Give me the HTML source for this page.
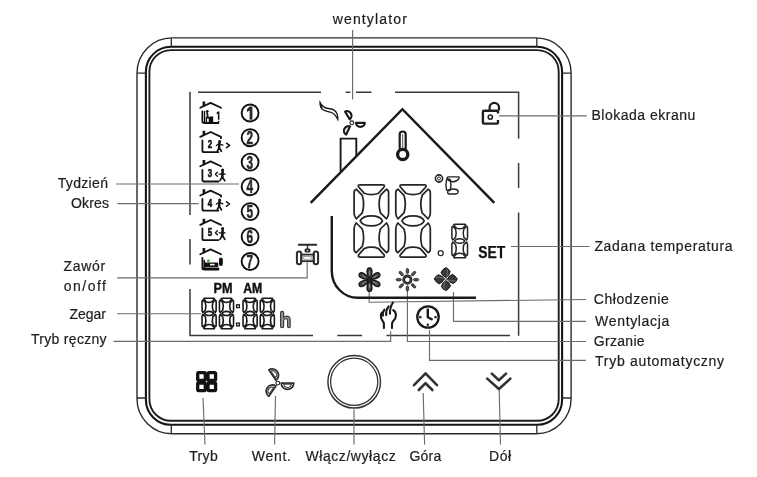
<!DOCTYPE html>
<html><head><meta charset="utf-8"><title>Thermostat</title>
<style>
html,body{margin:0;padding:0;background:#fff;}
body{width:757px;height:477px;overflow:hidden;font-family:"Liberation Sans",sans-serif;}
svg{display:block;will-change:transform;}
</style></head>
<body>
<svg width="757" height="477" viewBox="0 0 757 477">
<rect width="757" height="477" fill="#fff"/>
<g fill="none" stroke="#2b2b2b">
<rect x="137" y="37.9" width="434.1" height="395.8" rx="35" ry="35" stroke-width="1.4"/>
<rect x="145.9" y="46.8" width="416.2" height="378" rx="25" ry="25" stroke-width="2.1" stroke="#151515"/>
<rect x="149.4" y="50.1" width="409.3" height="370.7" rx="21.5" ry="21.5" stroke-width="1.9" stroke="#1e1e1e"/>
<path d="M171.3 38V46.6M536.8 38V46.6M171.3 424.8V433.6M536.8 424.8V433.6M137 73.2H145.9M137 398H145.9M562.1 73.2H571M562.1 398H571" stroke-width="1.3"/>
</g>
<g fill="none" stroke="#3a3a3a" stroke-width="1.5">
<path d="M198 92.2H321M345.7 92.2H350.4M356 92.2H371.5M395 92.2H518.6V138.7M518.6 163V188M518.6 212.5V335.7"/>
<path d="M190 91.8V215M190 239V264.4M190 289V335.6H313M337.3 335.6H362.1M386.4 335.6H510"/>
</g>
<g fill="none" stroke="#6c6c6c" stroke-width="1.15">
<path d="M352.6 30V99.6 M499 115.8H586.7 M511 246.5H589.5 M116.2 184H239 M117.5 203.6H198.7 M117.1 277.9H307.2V262.5 M117.1 313.7H201 M113.5 341.3H390.7V331.3 M369.2 291V302.2L586 299.5 M453.5 292V321.3H586 M407.4 291V341.5H586 M429.5 330V360.3H586 M203 398L205 444.4 M275.5 396L274.6 444.4 M354 409.6V444.4 M423.2 393L424.6 444.4 M499.2 390L500.5 444.4"/>
</g>
<g transform="translate(353.5,184.8) scale(1,1)" fill="none" stroke="#262626" stroke-width="1.75" stroke-linejoin="round" vector-effect="non-scaling-stroke"><path vector-effect="non-scaling-stroke" d="M6.6,0 L29.1,0 Q31.6,0 30.6,2.2 L25.1,8.4 Q17.85,11.2 10.6,8.4 L5.1,2.2 Q4.1,0 6.6,0 Z"/><path vector-effect="non-scaling-stroke" d="M6.6,0 L29.1,0 Q31.6,0 30.6,2.2 L25.1,8.4 Q17.85,11.2 10.6,8.4 L5.1,2.2 Q4.1,0 6.6,0 Z" transform="matrix(1,0,0,-1,0,72.2)"/><path vector-effect="non-scaling-stroke" d="M2.7,4.4 Q0.6,5.2 0.6,8 L0.6,28.5 Q0.6,31.5 2.7,34 L8.8,28 Q11.4,19.2 8.8,10.6 Z"/><path vector-effect="non-scaling-stroke" d="M2.7,4.4 Q0.6,5.2 0.6,8 L0.6,28.5 Q0.6,31.5 2.7,34 L8.8,28 Q11.4,19.2 8.8,10.6 Z" transform="matrix(-1,0,0,1,35.7,0)"/><path vector-effect="non-scaling-stroke" d="M2.7,4.4 Q0.6,5.2 0.6,8 L0.6,28.5 Q0.6,31.5 2.7,34 L8.8,28 Q11.4,19.2 8.8,10.6 Z" transform="matrix(1,0,0,-1,0,72.2)"/><path vector-effect="non-scaling-stroke" d="M2.7,4.4 Q0.6,5.2 0.6,8 L0.6,28.5 Q0.6,31.5 2.7,34 L8.8,28 Q11.4,19.2 8.8,10.6 Z" transform="matrix(-1,0,0,-1,35.7,72.2)"/><path vector-effect="non-scaling-stroke" d="M6.7,36.1 C8.5,32.4 12,31.1 17.85,31.1 C23.7,31.1 27.2,32.4 29,36.1 C27.2,39.8 23.7,41.1 17.85,41.1 C12,41.1 8.5,39.8 6.7,36.1 Z"/></g>
<g transform="translate(395.2,184.8) scale(1,1)" fill="none" stroke="#262626" stroke-width="1.75" stroke-linejoin="round" vector-effect="non-scaling-stroke"><path vector-effect="non-scaling-stroke" d="M6.6,0 L29.1,0 Q31.6,0 30.6,2.2 L25.1,8.4 Q17.85,11.2 10.6,8.4 L5.1,2.2 Q4.1,0 6.6,0 Z"/><path vector-effect="non-scaling-stroke" d="M6.6,0 L29.1,0 Q31.6,0 30.6,2.2 L25.1,8.4 Q17.85,11.2 10.6,8.4 L5.1,2.2 Q4.1,0 6.6,0 Z" transform="matrix(1,0,0,-1,0,72.2)"/><path vector-effect="non-scaling-stroke" d="M2.7,4.4 Q0.6,5.2 0.6,8 L0.6,28.5 Q0.6,31.5 2.7,34 L8.8,28 Q11.4,19.2 8.8,10.6 Z"/><path vector-effect="non-scaling-stroke" d="M2.7,4.4 Q0.6,5.2 0.6,8 L0.6,28.5 Q0.6,31.5 2.7,34 L8.8,28 Q11.4,19.2 8.8,10.6 Z" transform="matrix(-1,0,0,1,35.7,0)"/><path vector-effect="non-scaling-stroke" d="M2.7,4.4 Q0.6,5.2 0.6,8 L0.6,28.5 Q0.6,31.5 2.7,34 L8.8,28 Q11.4,19.2 8.8,10.6 Z" transform="matrix(1,0,0,-1,0,72.2)"/><path vector-effect="non-scaling-stroke" d="M2.7,4.4 Q0.6,5.2 0.6,8 L0.6,28.5 Q0.6,31.5 2.7,34 L8.8,28 Q11.4,19.2 8.8,10.6 Z" transform="matrix(-1,0,0,-1,35.7,72.2)"/><path vector-effect="non-scaling-stroke" d="M6.7,36.1 C8.5,32.4 12,31.1 17.85,31.1 C23.7,31.1 27.2,32.4 29,36.1 C27.2,39.8 23.7,41.1 17.85,41.1 C12,41.1 8.5,39.8 6.7,36.1 Z"/></g>
<g transform="translate(451.6,224.2) scale(0.45378151260504196,0.46537396121883656)" fill="none" stroke="#222" stroke-width="1.5" stroke-linejoin="round" vector-effect="non-scaling-stroke"><path vector-effect="non-scaling-stroke" d="M6.6,0 L29.1,0 Q31.6,0 30.6,2.2 L25.1,8.4 Q17.85,11.2 10.6,8.4 L5.1,2.2 Q4.1,0 6.6,0 Z"/><path vector-effect="non-scaling-stroke" d="M6.6,0 L29.1,0 Q31.6,0 30.6,2.2 L25.1,8.4 Q17.85,11.2 10.6,8.4 L5.1,2.2 Q4.1,0 6.6,0 Z" transform="matrix(1,0,0,-1,0,72.2)"/><path vector-effect="non-scaling-stroke" d="M2.7,4.4 Q0.6,5.2 0.6,8 L0.6,28.5 Q0.6,31.5 2.7,34 L8.8,28 Q11.4,19.2 8.8,10.6 Z"/><path vector-effect="non-scaling-stroke" d="M2.7,4.4 Q0.6,5.2 0.6,8 L0.6,28.5 Q0.6,31.5 2.7,34 L8.8,28 Q11.4,19.2 8.8,10.6 Z" transform="matrix(-1,0,0,1,35.7,0)"/><path vector-effect="non-scaling-stroke" d="M2.7,4.4 Q0.6,5.2 0.6,8 L0.6,28.5 Q0.6,31.5 2.7,34 L8.8,28 Q11.4,19.2 8.8,10.6 Z" transform="matrix(1,0,0,-1,0,72.2)"/><path vector-effect="non-scaling-stroke" d="M2.7,4.4 Q0.6,5.2 0.6,8 L0.6,28.5 Q0.6,31.5 2.7,34 L8.8,28 Q11.4,19.2 8.8,10.6 Z" transform="matrix(-1,0,0,-1,35.7,72.2)"/><path vector-effect="non-scaling-stroke" d="M6.7,36.1 C8.5,32.4 12,31.1 17.85,31.1 C23.7,31.1 27.2,32.4 29,36.1 C27.2,39.8 23.7,41.1 17.85,41.1 C12,41.1 8.5,39.8 6.7,36.1 Z"/></g>
<circle cx="440.7" cy="253.2" r="2.5" fill="none" stroke="#2a2a2a" stroke-width="1.3"/>
<g transform="translate(201.8,298.2) scale(0.4089635854341736,0.42243767313019387)" fill="none" stroke="#1a1a1a" stroke-width="1.6" stroke-linejoin="round" vector-effect="non-scaling-stroke"><path vector-effect="non-scaling-stroke" d="M6.6,0 L29.1,0 Q31.6,0 30.6,2.2 L25.1,8.4 Q17.85,11.2 10.6,8.4 L5.1,2.2 Q4.1,0 6.6,0 Z"/><path vector-effect="non-scaling-stroke" d="M6.6,0 L29.1,0 Q31.6,0 30.6,2.2 L25.1,8.4 Q17.85,11.2 10.6,8.4 L5.1,2.2 Q4.1,0 6.6,0 Z" transform="matrix(1,0,0,-1,0,72.2)"/><path vector-effect="non-scaling-stroke" d="M2.7,4.4 Q0.6,5.2 0.6,8 L0.6,28.5 Q0.6,31.5 2.7,34 L8.8,28 Q11.4,19.2 8.8,10.6 Z"/><path vector-effect="non-scaling-stroke" d="M2.7,4.4 Q0.6,5.2 0.6,8 L0.6,28.5 Q0.6,31.5 2.7,34 L8.8,28 Q11.4,19.2 8.8,10.6 Z" transform="matrix(-1,0,0,1,35.7,0)"/><path vector-effect="non-scaling-stroke" d="M2.7,4.4 Q0.6,5.2 0.6,8 L0.6,28.5 Q0.6,31.5 2.7,34 L8.8,28 Q11.4,19.2 8.8,10.6 Z" transform="matrix(1,0,0,-1,0,72.2)"/><path vector-effect="non-scaling-stroke" d="M2.7,4.4 Q0.6,5.2 0.6,8 L0.6,28.5 Q0.6,31.5 2.7,34 L8.8,28 Q11.4,19.2 8.8,10.6 Z" transform="matrix(-1,0,0,-1,35.7,72.2)"/><path vector-effect="non-scaling-stroke" d="M6.7,36.1 C8.5,32.4 12,31.1 17.85,31.1 C23.7,31.1 27.2,32.4 29,36.1 C27.2,39.8 23.7,41.1 17.85,41.1 C12,41.1 8.5,39.8 6.7,36.1 Z"/></g>
<g transform="translate(219.2,298.2) scale(0.4089635854341736,0.42243767313019387)" fill="none" stroke="#1a1a1a" stroke-width="1.6" stroke-linejoin="round" vector-effect="non-scaling-stroke"><path vector-effect="non-scaling-stroke" d="M6.6,0 L29.1,0 Q31.6,0 30.6,2.2 L25.1,8.4 Q17.85,11.2 10.6,8.4 L5.1,2.2 Q4.1,0 6.6,0 Z"/><path vector-effect="non-scaling-stroke" d="M6.6,0 L29.1,0 Q31.6,0 30.6,2.2 L25.1,8.4 Q17.85,11.2 10.6,8.4 L5.1,2.2 Q4.1,0 6.6,0 Z" transform="matrix(1,0,0,-1,0,72.2)"/><path vector-effect="non-scaling-stroke" d="M2.7,4.4 Q0.6,5.2 0.6,8 L0.6,28.5 Q0.6,31.5 2.7,34 L8.8,28 Q11.4,19.2 8.8,10.6 Z"/><path vector-effect="non-scaling-stroke" d="M2.7,4.4 Q0.6,5.2 0.6,8 L0.6,28.5 Q0.6,31.5 2.7,34 L8.8,28 Q11.4,19.2 8.8,10.6 Z" transform="matrix(-1,0,0,1,35.7,0)"/><path vector-effect="non-scaling-stroke" d="M2.7,4.4 Q0.6,5.2 0.6,8 L0.6,28.5 Q0.6,31.5 2.7,34 L8.8,28 Q11.4,19.2 8.8,10.6 Z" transform="matrix(1,0,0,-1,0,72.2)"/><path vector-effect="non-scaling-stroke" d="M2.7,4.4 Q0.6,5.2 0.6,8 L0.6,28.5 Q0.6,31.5 2.7,34 L8.8,28 Q11.4,19.2 8.8,10.6 Z" transform="matrix(-1,0,0,-1,35.7,72.2)"/><path vector-effect="non-scaling-stroke" d="M6.7,36.1 C8.5,32.4 12,31.1 17.85,31.1 C23.7,31.1 27.2,32.4 29,36.1 C27.2,39.8 23.7,41.1 17.85,41.1 C12,41.1 8.5,39.8 6.7,36.1 Z"/></g>
<g transform="translate(242.8,298.2) scale(0.4089635854341736,0.42243767313019387)" fill="none" stroke="#1a1a1a" stroke-width="1.6" stroke-linejoin="round" vector-effect="non-scaling-stroke"><path vector-effect="non-scaling-stroke" d="M6.6,0 L29.1,0 Q31.6,0 30.6,2.2 L25.1,8.4 Q17.85,11.2 10.6,8.4 L5.1,2.2 Q4.1,0 6.6,0 Z"/><path vector-effect="non-scaling-stroke" d="M6.6,0 L29.1,0 Q31.6,0 30.6,2.2 L25.1,8.4 Q17.85,11.2 10.6,8.4 L5.1,2.2 Q4.1,0 6.6,0 Z" transform="matrix(1,0,0,-1,0,72.2)"/><path vector-effect="non-scaling-stroke" d="M2.7,4.4 Q0.6,5.2 0.6,8 L0.6,28.5 Q0.6,31.5 2.7,34 L8.8,28 Q11.4,19.2 8.8,10.6 Z"/><path vector-effect="non-scaling-stroke" d="M2.7,4.4 Q0.6,5.2 0.6,8 L0.6,28.5 Q0.6,31.5 2.7,34 L8.8,28 Q11.4,19.2 8.8,10.6 Z" transform="matrix(-1,0,0,1,35.7,0)"/><path vector-effect="non-scaling-stroke" d="M2.7,4.4 Q0.6,5.2 0.6,8 L0.6,28.5 Q0.6,31.5 2.7,34 L8.8,28 Q11.4,19.2 8.8,10.6 Z" transform="matrix(1,0,0,-1,0,72.2)"/><path vector-effect="non-scaling-stroke" d="M2.7,4.4 Q0.6,5.2 0.6,8 L0.6,28.5 Q0.6,31.5 2.7,34 L8.8,28 Q11.4,19.2 8.8,10.6 Z" transform="matrix(-1,0,0,-1,35.7,72.2)"/><path vector-effect="non-scaling-stroke" d="M6.7,36.1 C8.5,32.4 12,31.1 17.85,31.1 C23.7,31.1 27.2,32.4 29,36.1 C27.2,39.8 23.7,41.1 17.85,41.1 C12,41.1 8.5,39.8 6.7,36.1 Z"/></g>
<g transform="translate(260.0,298.2) scale(0.4089635854341736,0.42243767313019387)" fill="none" stroke="#1a1a1a" stroke-width="1.6" stroke-linejoin="round" vector-effect="non-scaling-stroke"><path vector-effect="non-scaling-stroke" d="M6.6,0 L29.1,0 Q31.6,0 30.6,2.2 L25.1,8.4 Q17.85,11.2 10.6,8.4 L5.1,2.2 Q4.1,0 6.6,0 Z"/><path vector-effect="non-scaling-stroke" d="M6.6,0 L29.1,0 Q31.6,0 30.6,2.2 L25.1,8.4 Q17.85,11.2 10.6,8.4 L5.1,2.2 Q4.1,0 6.6,0 Z" transform="matrix(1,0,0,-1,0,72.2)"/><path vector-effect="non-scaling-stroke" d="M2.7,4.4 Q0.6,5.2 0.6,8 L0.6,28.5 Q0.6,31.5 2.7,34 L8.8,28 Q11.4,19.2 8.8,10.6 Z"/><path vector-effect="non-scaling-stroke" d="M2.7,4.4 Q0.6,5.2 0.6,8 L0.6,28.5 Q0.6,31.5 2.7,34 L8.8,28 Q11.4,19.2 8.8,10.6 Z" transform="matrix(-1,0,0,1,35.7,0)"/><path vector-effect="non-scaling-stroke" d="M2.7,4.4 Q0.6,5.2 0.6,8 L0.6,28.5 Q0.6,31.5 2.7,34 L8.8,28 Q11.4,19.2 8.8,10.6 Z" transform="matrix(1,0,0,-1,0,72.2)"/><path vector-effect="non-scaling-stroke" d="M2.7,4.4 Q0.6,5.2 0.6,8 L0.6,28.5 Q0.6,31.5 2.7,34 L8.8,28 Q11.4,19.2 8.8,10.6 Z" transform="matrix(-1,0,0,-1,35.7,72.2)"/><path vector-effect="non-scaling-stroke" d="M6.7,36.1 C8.5,32.4 12,31.1 17.85,31.1 C23.7,31.1 27.2,32.4 29,36.1 C27.2,39.8 23.7,41.1 17.85,41.1 C12,41.1 8.5,39.8 6.7,36.1 Z"/></g>
<rect x="236.6" y="304.8" width="2.8" height="2.8" fill="none" stroke="#1a1a1a" stroke-width="1.3"/>
<rect x="236.6" y="323.1" width="2.8" height="2.8" fill="none" stroke="#1a1a1a" stroke-width="1.3"/>
<g font-family="Liberation Sans, sans-serif" stroke="#1e1e1e" stroke-width="0.2">
<text x="332.7" y="23.8" font-size="14" font-weight="normal" fill="#1e1e1e" text-anchor="start" textLength="74.1" lengthAdjust="spacing">wentylator</text>
<text x="591.4" y="120.3" font-size="14" font-weight="normal" fill="#1e1e1e" text-anchor="start" textLength="104" lengthAdjust="spacing">Blokada ekranu</text>
<text x="594.4" y="250.5" font-size="14" font-weight="normal" fill="#1e1e1e" text-anchor="start" textLength="138.2" lengthAdjust="spacing">Zadana temperatura</text>
<text x="57.7" y="187.8" font-size="14" font-weight="normal" fill="#1e1e1e" text-anchor="start" textLength="50.3" lengthAdjust="spacing">Tydzień</text>
<text x="71.0" y="207.6" font-size="14" font-weight="normal" fill="#1e1e1e" text-anchor="start" textLength="38" lengthAdjust="spacing">Okres</text>
<text x="63.4" y="270.9" font-size="14" font-weight="normal" fill="#1e1e1e" text-anchor="start" textLength="41.8" lengthAdjust="spacing">Zawór</text>
<text x="63.8" y="290.8" font-size="14" font-weight="normal" fill="#1e1e1e" text-anchor="start" textLength="42.2" lengthAdjust="spacing">on/off</text>
<text x="69.4" y="319.1" font-size="14" font-weight="normal" fill="#1e1e1e" text-anchor="start" textLength="36.6" lengthAdjust="spacing">Zegar</text>
<text x="30.9" y="343.6" font-size="14" font-weight="normal" fill="#1e1e1e" text-anchor="start" textLength="75.7" lengthAdjust="spacing">Tryb ręczny</text>
<text x="593.8" y="303.9" font-size="14" font-weight="normal" fill="#1e1e1e" text-anchor="start" textLength="75" lengthAdjust="spacing">Chłodzenie</text>
<text x="595.1" y="325.5" font-size="14" font-weight="normal" fill="#1e1e1e" text-anchor="start" textLength="74.2" lengthAdjust="spacing">Wentylacja</text>
<text x="593.8" y="346.4" font-size="14" font-weight="normal" fill="#1e1e1e" text-anchor="start" textLength="50.8" lengthAdjust="spacing">Grzanie</text>
<text x="595.1" y="365.9" font-size="14" font-weight="normal" fill="#1e1e1e" text-anchor="start" textLength="128.9" lengthAdjust="spacing">Tryb automatyczny</text>
<text x="189.2" y="460.9" font-size="14" font-weight="normal" fill="#1e1e1e" text-anchor="start" textLength="28.5" lengthAdjust="spacing">Tryb</text>
<text x="251.7" y="460.9" font-size="14" font-weight="normal" fill="#1e1e1e" text-anchor="start" textLength="39.3" lengthAdjust="spacing">Went.</text>
<text x="305.5" y="460.9" font-size="14" font-weight="normal" fill="#1e1e1e" text-anchor="start" textLength="90.2" lengthAdjust="spacing">Włącz/wyłącz</text>
<text x="409.4" y="460.9" font-size="14" font-weight="normal" fill="#1e1e1e" text-anchor="start" textLength="31.9" lengthAdjust="spacing">Góra</text>
<text x="489.0" y="460.9" font-size="14" font-weight="normal" fill="#1e1e1e" text-anchor="start" textLength="22.2" lengthAdjust="spacing">Dół</text>
</g><g font-family="Liberation Sans, sans-serif">
<g stroke="#111" stroke-width="0.4">
<text x="213.6" y="293.4" font-size="14" font-weight="bold" fill="#111" text-anchor="start" textLength="19" lengthAdjust="spacingAndGlyphs">PM</text>
<text x="243.2" y="293.4" font-size="14" font-weight="bold" fill="#111" text-anchor="start" textLength="19.1" lengthAdjust="spacingAndGlyphs">AM</text>
</g>
<g stroke="#111" stroke-width="0.25">
<text x="478.3" y="257.7" font-size="16.4" font-weight="bold" fill="#111" text-anchor="start" textLength="27.0" lengthAdjust="spacingAndGlyphs">SET</text>
</g>
</g>
<g fill="none" stroke="#1a1a1a" stroke-width="2.5" stroke-linecap="butt" stroke-linejoin="miter">
<path d="M310.7 202.8L402.4 109.2L494.3 202.8"/>
<path d="M340.6 171.4V138.6H356.3V155.6" stroke-width="1.9"/>
<path d="M331.8 216V271.2A26 26.6 0 0 0 357.8 297.8H476" stroke-width="2.4"/>
</g>
<g fill="none" stroke="#1a1a1a" stroke-width="1.3">
<path d="M320 102.4C321.5 105.6 324.5 108.2 328.5 108.5C332 108.8 335.6 110 337.1 114C337.8 116.5 338 118.5 337.8 119.6C336.4 116.6 334.2 113.2 330.4 112.2C326.6 111.4 323 111 321.3 108.2C320.3 106.4 319.8 104.2 320 102.4Z" fill="#fff" stroke-width="1.3"/>
<path d="M320 102.4C320.8 104.5 321.6 106 322.6 107.2L321.4 109.2C320.3 107 319.8 104.6 320 102.4Z" fill="#1a1a1a" stroke="none"/>
<circle cx="351.8" cy="122.8" r="1.9" stroke-width="1.1"/>
<path d="M349.64 119.20L345.10 111.66A4.40 4.00 -121.0 0 1 349.64 119.20Z" stroke-width="2.2" stroke-linejoin="round"/>
<path d="M356.00 122.80L364.80 122.80A4.40 4.00 0.0 0 1 356.00 122.80Z" stroke-width="2.2" stroke-linejoin="round"/>
<path d="M349.96 126.57L346.10 134.48A4.40 4.00 116.0 0 1 349.96 126.57Z" stroke-width="2.2" stroke-linejoin="round"/>
</g>
<g stroke="#1a1a1a">
<rect x="399.7" y="131.5" width="6.0" height="19" rx="3" fill="#fff" stroke-width="2.2"/>
<path d="M402.7 134.2V149" stroke-width="1" stroke="#555"/>
<circle cx="402.7" cy="154.4" r="5.1" fill="#fff" stroke-width="3.3"/>
</g>
<g fill="none" stroke="#222" stroke-width="1.4" stroke-linejoin="round">
<circle cx="439" cy="178.5" r="3.6" stroke-width="1.6"/><circle cx="439" cy="178.5" r="1.5" stroke-width="1"/>
<path d="M448 176.9H458.3Q459.8 177.1 458.8 178.6Q457 181.6 453.2 181.8Q449.4 181.7 447.2 179.2Q446.8 177.2 448 176.9Z"/>
<path d="M446.6 179.4Q445.4 184.6 446.6 190.2Q448.4 191 450.4 190Q451.4 184.6 450.4 179.8Q448.6 178.4 446.6 179.4Z"/>
<path d="M449.2 189.6Q453 188.6 456.6 189.5Q458.6 190.4 458.1 192.4Q457.6 194 455.6 194H449.8Q447.6 193.8 447.6 192.2Q447.8 190.2 449.2 189.6Z"/>
</g>
<g fill="none" stroke="#1e1e1e" stroke-width="2.4">
<path d="M498 113.6V111.8Q498 110.8 497 110.8H484Q482.9 110.8 482.9 111.9V122.6Q482.9 123.6 484 123.6H497Q498 123.6 498 122.6V120"/>
<path d="M489.6 110.6V107.6A4.7 4.7 0 0 1 499 107.6V110.6" stroke-width="2.2"/>
<circle cx="490.3" cy="117.1" r="2.1" stroke-width="1.6"/>
</g>
<g fill="none" stroke="#2a2a2a" stroke-width="1.6">
<path d="M298.8 244.8H316.2" stroke-width="2.1" stroke-linecap="round"/>
<path d="M307.5 244.8V249" stroke-width="1.4"/>
<rect x="304.6" y="248.4" width="5.8" height="4.2" rx="1.4" fill="#2a2a2a" stroke="none"/>
<circle cx="307.5" cy="250.6" r="0.9" fill="#bbb" stroke="none"/>
<rect x="296.9" y="251.6" width="4.4" height="12.6" rx="2.2" stroke-width="2"/>
<rect x="313.7" y="251.6" width="4.4" height="12.6" rx="2.2" stroke-width="2"/>
<rect x="301.3" y="254.6" width="12.4" height="6.6" stroke-width="1.8"/>
<rect x="303.8" y="256.6" width="7.4" height="2.6" fill="#fff" stroke="#666" stroke-width="0.6"/>
</g>
<path d="M369.50 278.70C373.10 274.35 372.74 267.50 369.50 268.00C366.26 267.50 365.90 274.35 369.50 278.70Z" fill="#444" stroke="#111" stroke-width="1.2"/><path d="M369.50 275.70L369.50 271.20" stroke="#aaa" stroke-width="0.7"/><path d="M370.37 279.20C375.93 280.14 381.69 276.41 379.63 273.85C378.45 270.79 372.33 273.91 370.37 279.20Z" fill="#444" stroke="#111" stroke-width="1.2"/><path d="M372.96 277.70L376.86 275.45" stroke="#aaa" stroke-width="0.7"/><path d="M370.37 280.20C372.33 285.49 378.45 288.61 379.63 285.55C381.69 282.99 375.93 279.26 370.37 280.20Z" fill="#444" stroke="#111" stroke-width="1.2"/><path d="M372.96 281.70L376.86 283.95" stroke="#aaa" stroke-width="0.7"/><path d="M369.50 280.70C365.90 285.05 366.26 291.90 369.50 291.40C372.74 291.90 373.10 285.05 369.50 280.70Z" fill="#444" stroke="#111" stroke-width="1.2"/><path d="M369.50 283.70L369.50 288.20" stroke="#aaa" stroke-width="0.7"/><path d="M368.63 280.20C363.07 279.26 357.31 282.99 359.37 285.55C360.55 288.61 366.67 285.49 368.63 280.20Z" fill="#444" stroke="#111" stroke-width="1.2"/><path d="M366.04 281.70L362.14 283.95" stroke="#aaa" stroke-width="0.7"/><path d="M368.63 279.20C366.67 273.91 360.55 270.79 359.37 273.85C357.31 276.41 363.07 280.14 368.63 279.20Z" fill="#444" stroke="#111" stroke-width="1.2"/><path d="M366.04 277.70L362.14 275.45" stroke="#aaa" stroke-width="0.7"/>
<circle cx="369.5" cy="279.7" r="2.2" fill="#222"/>
<circle cx="407.4" cy="279.7" r="3.7" fill="none" stroke="#1e1e1e" stroke-width="2.8"/>
<circle cx="407.4" cy="279.7" r="3.9" fill="none" stroke="#777" stroke-width="0.5"/>
<ellipse cx="416.10" cy="279.70" rx="2.7" ry="1.3" transform="rotate(0 416.10 279.70)" fill="#555" stroke="#1e1e1e" stroke-width="0.8"/><ellipse cx="413.55" cy="285.85" rx="2.7" ry="1.3" transform="rotate(45 413.55 285.85)" fill="#555" stroke="#1e1e1e" stroke-width="0.8"/><ellipse cx="407.40" cy="288.40" rx="2.7" ry="1.3" transform="rotate(90 407.40 288.40)" fill="#555" stroke="#1e1e1e" stroke-width="0.8"/><ellipse cx="401.25" cy="285.85" rx="2.7" ry="1.3" transform="rotate(135 401.25 285.85)" fill="#555" stroke="#1e1e1e" stroke-width="0.8"/><ellipse cx="398.70" cy="279.70" rx="2.7" ry="1.3" transform="rotate(180 398.70 279.70)" fill="#555" stroke="#1e1e1e" stroke-width="0.8"/><ellipse cx="401.25" cy="273.55" rx="2.7" ry="1.3" transform="rotate(225 401.25 273.55)" fill="#555" stroke="#1e1e1e" stroke-width="0.8"/><ellipse cx="407.40" cy="271.00" rx="2.7" ry="1.3" transform="rotate(270 407.40 271.00)" fill="#555" stroke="#1e1e1e" stroke-width="0.8"/><ellipse cx="413.55" cy="273.55" rx="2.7" ry="1.3" transform="rotate(315 413.55 273.55)" fill="#555" stroke="#1e1e1e" stroke-width="0.8"/>
<path d="M446.20 277.70Q442.20 275.90 441.00 272.50Q442.80 268.90 445.80 267.60Q449.00 268.90 450.20 271.70Q449.20 275.50 446.20 277.70Z" fill="#3a3a3a" stroke="#111" stroke-width="1.0" stroke-linejoin="round"/><path d="M446.80 277.10Q448.40 273.10 447.40 269.50" fill="none" stroke="#999" stroke-width="0.6"/><path d="M447.20 279.50Q449.00 275.50 452.40 274.30Q456.00 276.10 457.30 279.10Q456.00 282.30 453.20 283.50Q449.40 282.50 447.20 279.50Z" fill="#3a3a3a" stroke="#111" stroke-width="1.0" stroke-linejoin="round"/><path d="M447.80 280.10Q451.80 281.70 455.40 280.70" fill="none" stroke="#999" stroke-width="0.6"/><path d="M445.40 280.50Q449.40 282.30 450.60 285.70Q448.80 289.30 445.80 290.60Q442.60 289.30 441.40 286.50Q442.40 282.70 445.40 280.50Z" fill="#3a3a3a" stroke="#111" stroke-width="1.0" stroke-linejoin="round"/><path d="M444.80 281.10Q443.20 285.10 444.20 288.70" fill="none" stroke="#999" stroke-width="0.6"/><path d="M444.40 278.70Q442.60 282.70 439.20 283.90Q435.60 282.10 434.30 279.10Q435.60 275.90 438.40 274.70Q442.20 275.70 444.40 278.70Z" fill="#3a3a3a" stroke="#111" stroke-width="1.0" stroke-linejoin="round"/><path d="M443.80 278.10Q439.80 276.50 436.20 277.50" fill="none" stroke="#999" stroke-width="0.6"/>
<circle cx="445.8" cy="279.1" r="1.3" fill="#ddd" stroke="#333" stroke-width="0.6"/>
<g fill="none" stroke="#1a1a1a" stroke-width="2.1" stroke-linecap="round" stroke-linejoin="round">
<path d="M383.9 328.1V324.2Q383.8 322 382 320Q380.6 318 380.9 315Q381.2 312.8 382.6 312.2"/>
<path d="M382.9 315.6Q382.6 312 384.4 309.6"/>
<path d="M386.2 315.2Q385.8 310 388.6 306.4"/>
<path d="M390 313.8Q389.8 307 393 302.5"/>
<path d="M393.2 310.2Q396 311.5 395.9 315.5Q395.8 319 393.6 320.6Q392 322 392 324V328.1"/>
</g>
<g fill="none" stroke="#1a1a1a" stroke-width="2.3">
<circle cx="428" cy="317" r="10.7"/>
<path d="M427.8 308.4V317.2L432.6 319.8" stroke-width="2.4" stroke-linejoin="round"/>
<path d="M419.2 317.1H421.4M434.4 317.1H436.6" stroke-width="2.2"/>
<circle cx="427.8" cy="324.7" r="1.2" fill="#1a1a1a" stroke="none"/>
</g>
<g fill="none" stroke="#111" stroke-width="1.8" stroke-linejoin="round" stroke-linecap="round"><path d="M200.3 107.80000000000001L210.6 102.9L221 107.80000000000001"/><path d="M202.4 111.30000000000001V121.30000000000001Q202.4 123.0 204.2 123.0H218.4"/></g><path d="M202.6 101.60000000000001H205.2V105.10000000000001L202.6 106.5Z" fill="#111"/><g fill="none" stroke="#111" stroke-linecap="round"><path d="M204.6 111.30000000000001V121.9" stroke-width="1.2"/><circle cx="207.3" cy="111.2" r="1.3" fill="#111" stroke="none"/><path d="M207.2 112.9L207.8 117.5L209.6 117.9V121.9" stroke-width="1.8"/><path d="M206.4 117.5V121.9" stroke-width="1.4"/></g><rect x="209.8" y="116.5" width="3.4" height="5.6" fill="#111"/><path d="M217.6 111.5H219.4V119.7H217.9V113.5L216.6 114.30000000000001V112.7Z" fill="#111"/><path d="M218.6 122.5V120.9" stroke="#111" stroke-width="1.5"/>
<g fill="none" stroke="#111" stroke-width="1.8" stroke-linejoin="round" stroke-linecap="round"><path d="M200.3 136.9L210.6 132.0L221 136.9"/><path d="M202.4 140.4V150.4Q202.4 152.1 204.2 152.1H218.4"/></g><path d="M202.6 130.7H205.2V134.2L202.6 135.6Z" fill="#111"/><text x="207.7" y="148.0" font-size="11.8" font-family="Liberation Sans, sans-serif" font-weight="bold" fill="#111" stroke="#111" stroke-width="0.6" textLength="4.4" lengthAdjust="spacingAndGlyphs">2</text><g fill="none" stroke="#111" stroke-linecap="round" stroke-linejoin="round"><circle cx="219.6" cy="141.4" r="1.5" fill="#111" stroke="none"/><path d="M219.4 143.2L219.1 147.6" stroke-width="2.4"/><path d="M216.4 145.6Q218.1 143.6 219.6 144.0L222.9 145.2" stroke-width="1.3"/><path d="M217.2 151.3L219.1 147.4L221.4 151.3" stroke-width="1.7"/><path d="M226.5 143.2L229.6 145.4L226.5 147.6" stroke-width="1.5"/></g><path d="M221 136.9V139.0" stroke="#111" stroke-width="1.6"/>
<g fill="none" stroke="#111" stroke-width="1.8" stroke-linejoin="round" stroke-linecap="round"><path d="M200.3 166.3L210.6 161.4L221 166.3"/><path d="M202.4 169.8V179.8Q202.4 181.5 204.2 181.5H218.4"/></g><path d="M202.6 160.1H205.2V163.6L202.6 165.0Z" fill="#111"/><text x="207.7" y="177.4" font-size="11.8" font-family="Liberation Sans, sans-serif" font-weight="bold" fill="#111" stroke="#111" stroke-width="0.6" textLength="4.4" lengthAdjust="spacingAndGlyphs">3</text><g fill="none" stroke="#111" stroke-linecap="round" stroke-linejoin="round"><circle cx="222.6" cy="170.0" r="1.5" fill="#111" stroke="none"/><path d="M222.6 171.8L222.29999999999998 176.8" stroke-width="2.6"/><path d="M219.0 174.20000000000002H225.2" stroke-width="1.2"/><path d="M220.0 180.70000000000002L222.2 176.6L224.79999999999998 180.70000000000002" stroke-width="1.7"/><path d="M217.4 172.20000000000002L215.4 174.20000000000002L217.4 176.20000000000002" stroke-width="1.3"/></g>
<g fill="none" stroke="#111" stroke-width="1.8" stroke-linejoin="round" stroke-linecap="round"><path d="M200.3 195.5L210.6 190.6L221 195.5"/><path d="M202.4 199.0V209.0Q202.4 210.7 204.2 210.7H218.4"/></g><path d="M202.6 189.29999999999998H205.2V192.79999999999998L202.6 194.2Z" fill="#111"/><text x="207.7" y="206.6" font-size="11.8" font-family="Liberation Sans, sans-serif" font-weight="bold" fill="#111" stroke="#111" stroke-width="0.6" textLength="4.4" lengthAdjust="spacingAndGlyphs">4</text><g fill="none" stroke="#111" stroke-linecap="round" stroke-linejoin="round"><circle cx="219.6" cy="200.0" r="1.5" fill="#111" stroke="none"/><path d="M219.4 201.79999999999998L219.1 206.2" stroke-width="2.4"/><path d="M216.4 204.2Q218.1 202.2 219.6 202.6L222.9 203.79999999999998" stroke-width="1.3"/><path d="M217.2 209.9L219.1 206.0L221.4 209.9" stroke-width="1.7"/><path d="M226.5 201.79999999999998L229.6 204.0L226.5 206.2" stroke-width="1.5"/></g><path d="M221 195.5V197.6" stroke="#111" stroke-width="1.6"/>
<g fill="none" stroke="#111" stroke-width="1.8" stroke-linejoin="round" stroke-linecap="round"><path d="M200.3 224.9L210.6 220.0L221 224.9"/><path d="M202.4 228.4V238.4Q202.4 240.1 204.2 240.1H218.4"/></g><path d="M202.6 218.7H205.2V222.2L202.6 223.6Z" fill="#111"/><text x="207.7" y="236.0" font-size="11.8" font-family="Liberation Sans, sans-serif" font-weight="bold" fill="#111" stroke="#111" stroke-width="0.6" textLength="4.4" lengthAdjust="spacingAndGlyphs">5</text><g fill="none" stroke="#111" stroke-linecap="round" stroke-linejoin="round"><circle cx="222.6" cy="228.6" r="1.5" fill="#111" stroke="none"/><path d="M222.6 230.4L222.29999999999998 235.4" stroke-width="2.6"/><path d="M219.0 232.8H225.2" stroke-width="1.2"/><path d="M220.0 239.3L222.2 235.2L224.79999999999998 239.3" stroke-width="1.7"/><path d="M217.4 230.8L215.4 232.8L217.4 234.8" stroke-width="1.3"/></g>
<g fill="none" stroke="#111" stroke-width="1.8" stroke-linejoin="round" stroke-linecap="round"><path d="M200.3 254.3L210.6 249.4L221 254.3"/><path d="M202.4 257.8V267.8Q202.4 269.5 204.2 269.5H218.4"/></g><path d="M202.6 248.1H205.2V251.6L202.6 253.0Z" fill="#111"/><g fill="#111" stroke="#111" stroke-linejoin="round"><path d="M204.3 259.9V268.4" stroke-width="1.6" fill="none"/><rect x="205" y="263.0" width="12.8" height="3.8" stroke-width="1"/><rect x="210" y="263.8" width="4.6" height="1.6" fill="#fff" stroke="none"/><path d="M203.4 268.4H219.2" stroke-width="1.4" fill="none"/><circle cx="208.4" cy="260.8" r="1.4" fill="#3a3" stroke="none"/><rect x="219" y="257.4" width="3.8" height="8.6" rx="1.9" stroke="none"/></g>
<ellipse cx="250.1" cy="113.0" rx="8.45" ry="8.5" fill="none" stroke="#111" stroke-width="1.9"/>
<path d="M249.6 106.5H252.4V119.8H249.6V110.4L246.9 111.9V109.3Z" fill="#2a2a2a"/>
<ellipse cx="250.1" cy="137.7" rx="8.45" ry="8.5" fill="none" stroke="#111" stroke-width="1.9"/>
<text x="249.7" y="144.29999999999998" font-size="18.4" font-weight="bold" fill="#2a2a2a" stroke="#2a2a2a" stroke-width="0.5" text-anchor="middle" font-family="Liberation Sans, sans-serif" textLength="6.6" lengthAdjust="spacingAndGlyphs">2</text>
<ellipse cx="250.1" cy="162.1" rx="8.45" ry="8.5" fill="none" stroke="#111" stroke-width="1.9"/>
<text x="249.7" y="168.7" font-size="18.4" font-weight="bold" fill="#2a2a2a" stroke="#2a2a2a" stroke-width="0.5" text-anchor="middle" font-family="Liberation Sans, sans-serif" textLength="6.6" lengthAdjust="spacingAndGlyphs">3</text>
<ellipse cx="250.1" cy="186.7" rx="8.45" ry="8.5" fill="none" stroke="#111" stroke-width="1.9"/>
<text x="249.7" y="193.29999999999998" font-size="18.4" font-weight="bold" fill="#2a2a2a" stroke="#2a2a2a" stroke-width="0.5" text-anchor="middle" font-family="Liberation Sans, sans-serif" textLength="6.6" lengthAdjust="spacingAndGlyphs">4</text>
<ellipse cx="250.1" cy="211.6" rx="8.45" ry="8.5" fill="none" stroke="#111" stroke-width="1.9"/>
<text x="249.7" y="218.2" font-size="18.4" font-weight="bold" fill="#2a2a2a" stroke="#2a2a2a" stroke-width="0.5" text-anchor="middle" font-family="Liberation Sans, sans-serif" textLength="6.6" lengthAdjust="spacingAndGlyphs">5</text>
<ellipse cx="250.1" cy="236.7" rx="8.45" ry="8.5" fill="none" stroke="#111" stroke-width="1.9"/>
<text x="249.7" y="243.29999999999998" font-size="18.4" font-weight="bold" fill="#2a2a2a" stroke="#2a2a2a" stroke-width="0.5" text-anchor="middle" font-family="Liberation Sans, sans-serif" textLength="6.6" lengthAdjust="spacingAndGlyphs">6</text>
<ellipse cx="250.1" cy="261.5" rx="8.45" ry="8.5" fill="none" stroke="#111" stroke-width="1.9"/>
<text x="249.7" y="268.1" font-size="18.4" font-weight="bold" fill="#2a2a2a" stroke="#2a2a2a" stroke-width="0.5" text-anchor="middle" font-family="Liberation Sans, sans-serif" textLength="6.6" lengthAdjust="spacingAndGlyphs">7</text>
<rect x="197.7" y="372.7" width="7.6" height="7.6" rx="1" fill="none" stroke="#111" stroke-width="3.3"/><rect x="208.0" y="372.7" width="7.6" height="7.6" rx="1" fill="none" stroke="#111" stroke-width="3.3"/><rect x="197.7" y="383.0" width="7.6" height="7.6" rx="1" fill="none" stroke="#111" stroke-width="3.3"/><rect x="208.0" y="383.0" width="7.6" height="7.6" rx="1" fill="none" stroke="#111" stroke-width="3.3"/>
<path d="M275.90 380.28L268.85 369.84A6.30 6.30 -124.0 0 1 275.90 380.28Z" fill="none" stroke="#2a2a2a" stroke-width="1.7" stroke-linejoin="round"/><path d="M275.27 377.57L271.02 371.27A3.80 3.40 -124.0 0 1 275.27 377.57Z" fill="none" stroke="#444" stroke-width="1.2" stroke-linejoin="round"/><path d="M281.20 383.10L293.80 383.10A6.30 6.30 0.0 0 1 281.20 383.10Z" fill="none" stroke="#2a2a2a" stroke-width="1.7" stroke-linejoin="round"/><path d="M283.80 384.10L291.40 384.10A3.80 3.40 0.0 0 1 283.80 384.10Z" fill="none" stroke="#444" stroke-width="1.2" stroke-linejoin="round"/><path d="M275.90 385.92L268.85 396.36A6.30 6.30 124.0 0 1 275.90 385.92Z" fill="none" stroke="#2a2a2a" stroke-width="1.7" stroke-linejoin="round"/><path d="M273.62 387.52L269.37 393.82A3.80 3.40 124.0 0 1 273.62 387.52Z" fill="none" stroke="#444" stroke-width="1.2" stroke-linejoin="round"/>
<circle cx="277.8" cy="383.1" r="1.9" fill="#fff" stroke="#222" stroke-width="1.1"/>
<circle cx="354.2" cy="381.8" r="26.3" fill="none" stroke="#333" stroke-width="1.5"/>
<circle cx="354.2" cy="381.8" r="23.6" fill="none" stroke="#333" stroke-width="1.3"/>
<g fill="none" stroke="#333" stroke-width="2.6" stroke-linecap="round" stroke-linejoin="round">
<path d="M414 385.2L425.5 373.4L437 385.2M418.8 390L425.5 383.2L432.4 390"/>
<path d="M491.8 373.6L498.9 380.2L506 373.6M487.2 378.6L498.9 389L510.4 378.6"/>
</g>
<path d="M280.6 312.8Q280.6 311.4 282.1 311.4Q283.6 311.4 283.6 312.8V317.4Q285 316 286.6 316Q290.2 316.2 290.2 320V326.4Q290.2 327.6 288.9 327.6Q287.6 327.6 287.6 326.4V320.4Q287.6 318.8 286.2 318.8Q284.2 318.8 283.6 320.6V326.4Q283.6 327.6 282.1 327.6Q280.6 327.6 280.6 326.4Z" fill="#999" stroke="#333" stroke-width="1.1"/>
</svg>
</body></html>
